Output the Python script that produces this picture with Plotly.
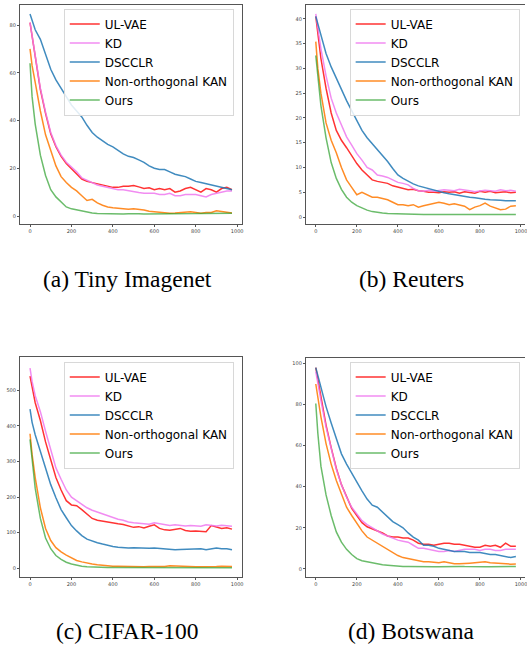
import plotly.graph_objects as go

STEPS = [0, 10, 25, 50, 75, 100, 125, 150, 175, 200, 225, 250, 275, 300, 325, 350, 375, 400,
         425, 450, 475, 500, 525, 550, 575, 600, 625, 650, 675, 700, 725, 750, 775, 800, 825,
         850, 875, 900, 925, 950, 975]

SERIES = ["UL-VAE", "KD", "DSCCLR", "Non-orthogonal KAN", "Ours"]
COLORS = ["rgba(255,0,0,0.8)", "rgba(238,120,238,0.85)", "rgba(31,119,180,0.85)",
          "rgba(255,127,14,0.9)", "rgba(44,160,44,0.7)"]

# (a) Tiny Imagenet
a_ulvae = [81, 75, 66, 53, 43, 34.5, 29, 25, 22, 19.8, 18, 15.5, 14.5, 14, 13.5, 13, 12.5, 12, 12, 12.5,
           12.5, 12.8, 12.2, 11.5, 11.8, 11, 11.5, 11, 11.5, 10, 10.5, 11.5, 12, 11, 10, 11.5, 11, 10, 11.5, 12, 11]
a_kd = [81, 75.5, 66.5, 53.5, 43.5, 35, 29.5, 25.5, 22.5, 20.5, 18.5, 16, 15, 14, 13, 12.5, 12, 11.5, 11, 11,
        10.5, 10, 9.8, 9.5, 9.5, 9.5, 9, 9, 9.5, 8.5, 8.5, 9, 9, 9, 8.5, 8, 9, 9.5, 10, 10.5, 10.5]
a_dscclr = [84.6, 82, 78, 74, 67.5, 61.5, 57, 53.5, 50, 46.5, 44, 41.5, 38, 35, 33, 31.5, 30, 29, 27.5, 26,
            25, 24.5, 23.5, 22.5, 21, 20, 19.5, 19.5, 18.5, 17.5, 17, 16.5, 15.5, 14.5, 14, 13.5, 13, 12.5, 12, 11.5, 11]
a_nokan = [70, 63, 56, 44, 34, 27, 21, 16.5, 14, 12, 10.5, 8.5, 6.5, 7, 5.5, 4.5, 3.8, 3.5, 3.2, 3,
           2.8, 3, 2.8, 2.5, 2, 1.8, 1.5, 1.5, 1.2, 1.3, 1.5, 1.5, 1.8, 1.5, 1.2, 1.5, 1.5, 2.2, 2, 1.5, 1.3]
a_ours = [64, 50, 38.5, 25.5, 17, 11, 8, 6, 3.8, 3, 2.5, 2, 1.5, 1.3, 1.1, 1, 0.9, 0.8, 0.8, 0.8,
          0.9, 1, 0.9, 0.8, 0.8, 0.7, 0.7, 0.8, 0.9, 0.9, 1, 1, 0.9, 1, 1.1, 1.1, 1, 1.1, 1.2, 1.2, 1.2]

# (b) Reuters
b_ulvae = [40.5, 37, 32, 26, 21, 17.5, 15.5, 14, 12.3, 10.8, 9.5, 8.5, 7.5, 7.2, 7, 6.8, 6.3, 6, 5.7, 5.5,
           5.6, 5.3, 5.2, 5, 5, 4.9, 5.1, 5, 5.1, 4.8, 5.1, 5, 4.8, 5.2, 5, 5.2, 4.9, 5, 5.1, 4.9, 5]
b_kd = [41, 38, 34, 28.5, 24, 21, 18.5, 16.2, 14.5, 12.8, 11.5, 10, 9.5, 8.5, 8.3, 8, 7.5, 7, 6.8, 6.5,
        5.8, 5.3, 5.2, 5.4, 5.2, 5.3, 5.5, 5.4, 5.3, 5.6, 5.5, 5.3, 5.1, 5.2, 5.4, 5.3, 5.2, 5.5, 5.3, 5.4, 5.2]
b_dscclr = [40.5, 39, 36.5, 33, 30.3, 28, 25.7, 23.5, 21.5, 19.5, 17.5, 16, 14.8, 13.7, 12.5, 11.2, 9.8, 8.5, 7.8, 7.2,
            6.7, 6.3, 6, 5.7, 5.4, 5.1, 4.9, 4.7, 4.5, 4.4, 4.2, 4, 3.9, 3.7, 3.6, 3.5, 3.5, 3.4, 3.3, 3.3, 3.3]
b_nokan = [35.4, 30, 25, 19, 15.5, 13, 10, 7.5, 6, 4.5, 5, 4.5, 4, 4, 3.8, 3.5, 3, 2.5, 2.5, 2.3,
           2.5, 2, 2.3, 2.5, 2.8, 3, 2.8, 2.5, 2.7, 2.5, 2.2, 1.5, 2, 2.3, 2.8, 2.2, 1.8, 1.5, 1.6, 2.2, 2.3]
b_ours = [32.6, 28, 22.5, 16, 11, 7.8, 5.6, 4, 3, 2.3, 1.8, 1.4, 1.1, 0.9, 0.8, 0.7, 0.65, 0.6, 0.55, 0.55,
          0.5, 0.5, 0.5, 0.5, 0.5, 0.5, 0.5, 0.45, 0.45, 0.45, 0.45, 0.45, 0.45, 0.5, 0.5, 0.5, 0.5, 0.5, 0.5, 0.5, 0.5]

# (c) CIFAR-100
c_ulvae = [540, 505, 465, 415, 355, 305, 255, 220, 190, 178, 176, 165, 152, 140, 135, 132, 130, 127, 125, 123,
           118, 115, 117, 113, 118, 122, 112, 108, 107, 110, 112, 106, 104, 105, 104, 103, 120, 116, 112, 114, 110]
c_kd = [562, 525, 485, 440, 385, 330, 282, 250, 220, 200, 190, 180, 170, 163, 158, 152, 148, 142, 138, 135,
        130, 128, 126, 126, 124, 128, 126, 122, 120, 122, 120, 119, 120, 118, 118, 122, 120, 119, 121, 119, 118]
c_dscclr = [447, 410, 375, 330, 280, 235, 198, 165, 142, 120, 105, 92, 82, 76, 72, 68, 64, 61, 59, 57,
            57, 58, 57, 57, 56, 57, 56, 54, 52, 52, 53, 54, 53, 54, 55, 52, 54, 57, 55, 55, 52]
c_nokan = [378, 320, 255, 170, 112, 78, 58, 46, 37, 29, 22, 18, 14, 12, 10, 8, 7, 6, 5.5, 5,
           5, 4.5, 5, 4.5, 5, 5, 4.5, 5, 7, 6, 5, 5, 4, 4, 4.5, 4, 5, 5, 6, 5.5, 5]
c_ours = [362, 300, 225, 140, 85, 55, 36, 25, 17, 12, 8.5, 6, 4.5, 3.5, 3, 2.5, 2.2, 2, 2, 1.8,
          1.8, 1.7, 1.7, 1.6, 1.6, 1.5, 1.5, 1.5, 1.5, 1.5, 1.5, 1.5, 1.5, 1.5, 1.5, 1.5, 1.5, 1.5, 1.5, 1.5, 1.5]

# (d) Botswana
d_ulvae = [98, 92, 84, 70, 59, 49, 41, 35, 29.5, 26, 22.5, 20.5, 19.5, 18.5, 17.5, 16, 15.5, 15.5, 15, 15,
           14, 12.5, 12, 12, 11.5, 12, 12.5, 12.5, 12, 12, 11.5, 11, 10.5, 10.5, 11.5, 11, 11.5, 10.5, 12.5, 11, 11]
d_kd = [96, 90, 82, 69, 58, 48.5, 41, 35, 30, 26.5, 23.5, 21.5, 20, 18.5, 17, 16, 15, 14, 13.5, 13,
        11.5, 10, 10, 9.5, 9, 8.5, 8.5, 9, 8.5, 9, 9.5, 9.5, 9.5, 9, 9.5, 9.5, 9, 9, 9.5, 9.5, 9.5]
d_dscclr = [98, 94, 88, 79, 71, 63, 56, 51, 46.5, 42, 38, 34, 31, 30, 27.5, 25, 23, 21.5, 20, 17.5,
            15.5, 14, 11.5, 11.5, 11, 10, 9.5, 9, 8.5, 8.5, 8.5, 8, 8, 8, 7.5, 7, 7, 6.5, 6, 5.5, 6]
d_nokan = [90, 83, 74, 61, 51, 43, 36, 30, 26, 22, 18.5, 15.5, 14, 12.5, 11, 9.5, 8, 6.5, 5.5, 5,
           4.5, 3.8, 3.5, 3.5, 3.3, 3, 3.5, 3, 2.5, 2.5, 2.5, 2.8, 3, 3.3, 3.5, 3, 2.8, 2.5, 2.3, 2.3, 2.4]
d_ours = [80.5, 66, 50, 36, 26, 18, 13, 9.5, 7, 5, 4, 3.5, 3, 2.3, 2, 1.8, 1.5, 1.3, 1.2, 1.2,
          1.1, 1, 1, 1, 1, 1, 1.1, 1.2, 1.2, 1.2, 1.1, 1, 1, 1, 1, 1, 1, 1, 1, 1.1, 1.2]

CAPTIONS = ["(a) Tiny Imagenet", "(b) Reuters", "(c) CIFAR-100", "(d) Botswana"]
Y_TICKS = [[0, 20, 40, 60, 80], [0, 5, 10, 15, 20, 25, 30, 35, 40],
           [0, 100, 200, 300, 400, 500], [0, 20, 40, 60, 80, 100]]
X_TICKS = [0, 200, 400, 600, 800, 1000]

panels = [
    [a_ulvae, a_kd, a_dscclr, a_nokan, a_ours],
    [b_ulvae, b_kd, b_dscclr, b_nokan, b_ours],
    [c_ulvae, c_kd, c_dscclr, c_nokan, c_ours],
    [d_ulvae, d_kd, d_dscclr, d_nokan, d_ours],
]

W, H = 527, 647
def px_x(p):
    return p / W
def px_y(p):
    return 1 - p / H

x_domains = [[px_x(20), px_x(243)], [px_x(307), 1.0], [px_x(20), px_x(243)], [px_x(307), 1.0]]
y_domains = [[px_y(224), px_y(5)], [px_y(224), px_y(5)], [px_y(577.3), px_y(357.3)], [px_y(577.3), px_y(357.5)]]
x_ranges = [[-48.75, 1023.75], [-48.5, 1019.5], [-48.75, 1023.75], [-48.5, 1019.5]]
y_ranges = [[-3.35, 88.4], [-1.4, 42.8], [-25.3, 592.7], [-4.1, 102.9]]
legend_pos = [(64, 8.5), (351, 8.5), (64, 361.5), (351, 361.5)]
caption_pos = [(128, 279), (413, 279), (128, 631), (413, 631)]

fig = go.Figure()
layout = dict(width=W, height=H, margin=dict(l=0, r=0, t=0, b=0),
              paper_bgcolor="white", plot_bgcolor="white", showlegend=True)

annotations = []
for i, series_vals in enumerate(panels):
    k = i + 1
    xa = "x" if k == 1 else f"x{k}"
    ya = "y" if k == 1 else f"y{k}"
    lg = "legend" if k == 1 else f"legend{k}"
    for name, vals, col in zip(SERIES, series_vals, COLORS):
        fig.add_trace(go.Scatter(x=STEPS, y=vals, mode="lines", name=name,
                                 line=dict(color=col, width=1.5),
                                 xaxis=xa, yaxis=ya, legend=lg))
    right_panel = (i % 2 == 1)
    layout[f"xaxis{'' if k == 1 else k}"] = dict(
        domain=x_domains[i], range=x_ranges[i], anchor=ya,
        tickvals=X_TICKS, ticktext=[str(v) for v in X_TICKS], ticklabeloverflow="allow",
        showgrid=False, zeroline=False, showline=True, mirror=True,
        linecolor="#555", linewidth=1, ticks="outside", ticklen=2, tickwidth=0.8,
        tickcolor="#555", tickfont=dict(size=5, color="#444", family="DejaVu Sans"))
    layout[f"yaxis{'' if k == 1 else k}"] = dict(
        domain=y_domains[i], range=y_ranges[i], anchor=xa,
        tickvals=Y_TICKS[i], ticktext=[str(v) for v in Y_TICKS[i]],
        showgrid=False, zeroline=False, showline=True, mirror=(not right_panel),
        linecolor="#555", linewidth=1, ticks="outside", ticklen=2, tickwidth=0.8,
        tickcolor="#555", tickfont=dict(size=5, color="#444", family="DejaVu Sans"))
    lx, ly = legend_pos[i]
    layout[lg] = dict(x=px_x(lx), y=px_y(ly), xanchor="left", yanchor="top",
                      bgcolor="rgba(255,255,255,0.85)", bordercolor="#d8d8d8", borderwidth=1,
                      font=dict(size=12, family="DejaVu Sans", color="black"),
                      itemwidth=30, tracegroupgap=0)
    cx, cy = caption_pos[i]
    annotations.append(dict(x=px_x(cx), y=px_y(cy), xref="paper", yref="paper",
                            text=CAPTIONS[i], showarrow=False, xanchor="center", yanchor="middle",
                            font=dict(size=23.5, family="Liberation Serif", color="black")))

layout["annotations"] = annotations
fig.update_layout(**layout)
fig.write_html("out.html", config={"displayModeBar": False},
               post_script="document.body.style.margin='0';document.body.style.overflow='hidden';")
